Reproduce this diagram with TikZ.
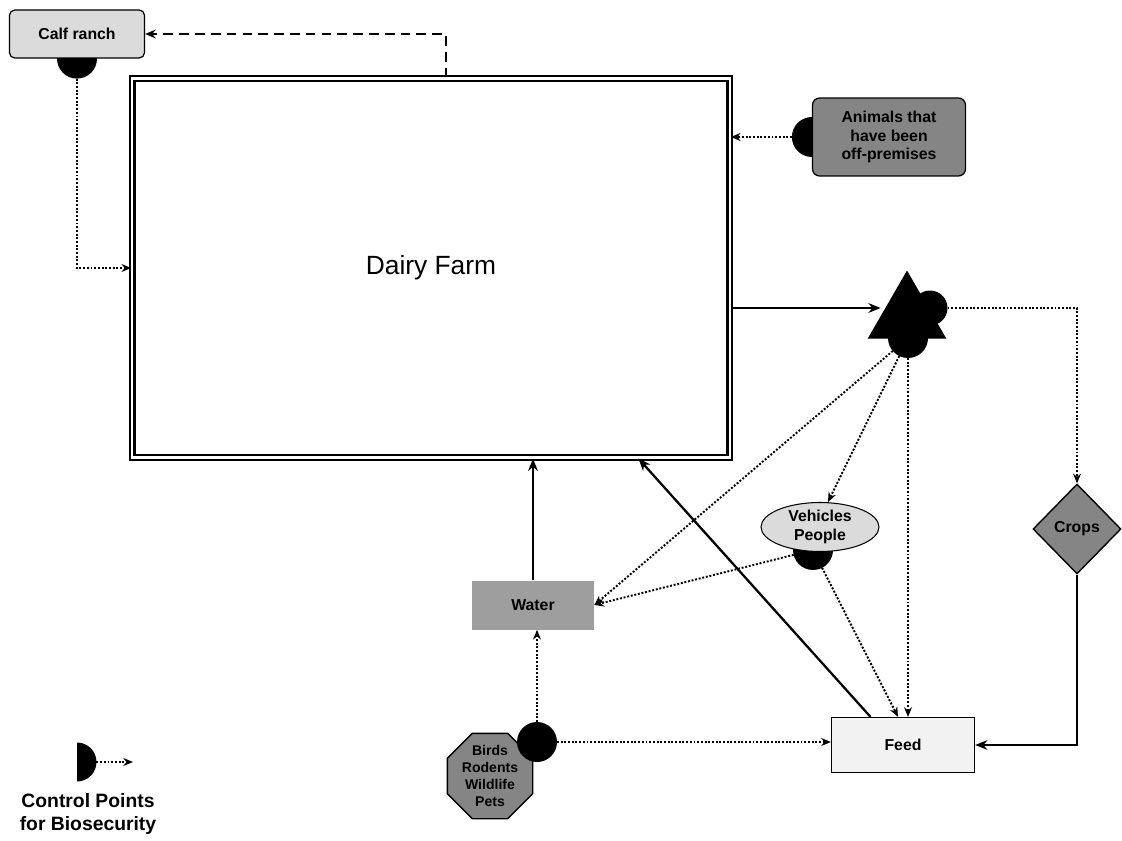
\documentclass[tikz,border=0pt]{standalone}
\usepackage{fontspec}
\setmainfont{Liberation Sans}
\usepackage{tikz}
\usetikzlibrary{positioning,shapes.geometric,arrows.meta,backgrounds,calc}
\definecolor{pale}{gray}{0.86}
\definecolor{light}{gray}{0.95}
\definecolor{mid}{gray}{0.62}
\definecolor{dark}{gray}{0.52}

\begin{document}
\begin{tikzpicture}[x=0.02cm,y=-0.02cm,
    lbl/.style={font=\fontsize{9}{10.5}\selectfont\bfseries,align=center},
    box/.style={lbl,draw,line width=0.7pt,inner sep=2pt},
    cp/.style={circle,fill=black,minimum size=0.8cm,inner sep=0pt,outer sep=0pt},
    flow/.style={line width=1.3pt,-{Stealth[length=7pt,width=5.5pt]}},
    dots/.style={line width=1.1pt,densely dotted,-{Stealth[length=5.5pt,width=4.5pt]}},
    dashline/.style={line width=1.2pt,dash pattern=on 5.5pt off 3.5pt,-{Stealth[length=6pt,width=5pt]}}
  ]
    \useasboundingbox (0,0) rectangle (1122,841);

    \node[draw,double,double distance=1.3pt,line width=1.3pt,minimum width=11.95cm,minimum height=7.58cm,
      font=\fontsize{15}{17}\selectfont] (farm) at (431,268) {Dairy Farm};

    \node[box,rounded corners=3pt,fill=pale,minimum width=2.7cm,minimum height=0.96cm] (calf) at (77,34) {Calf ranch};
    \node[box,rounded corners=4pt,fill=dark,minimum width=3.06cm,minimum height=1.56cm] (animals) at (889,137) {Animals that\\have been\\off-premises};

    % manure pile with its control points
    \node[regular polygon,regular polygon sides=3,fill=black,minimum size=1.82cm,inner sep=0pt,outer sep=0pt] (manure) at (907,316) {};
    \node[cp,minimum size=0.7cm] (rcp) at (930,308) {};
    \node[cp] (bcp) at (908,338) {};

    \node[diamond,draw,line width=0.8pt,fill=dark,lbl,minimum width=1.76cm,minimum height=1.8cm,inner sep=0pt] (crops) at (1077,529) {Crops};
    \node[lbl,fill=mid,minimum width=2.44cm,minimum height=0.98cm] (water) at (533,605) {Water};
    \node[box,fill=light,minimum width=2.86cm,minimum height=1.1cm] (feed) at (903,745) {Feed};
    \node[ellipse,draw,line width=0.6pt,fill=pale,lbl,minimum width=2.36cm,minimum height=0.98cm,inner sep=0pt] (veh) at (820,527) {Vehicles\\People};
    \node[regular polygon,regular polygon sides=8,draw,line width=0.8pt,fill=dark,lbl,
      font=\fontsize{8}{9.5}\selectfont\bfseries,minimum size=1.78cm,inner sep=0pt] (birds) at (490,776) {Birds\\Rodents\\Wildlife\\Pets};
    \node[cp] (bircp) at (537,742) {};

    \begin{scope}[on background layer]
      \node[cp] (ccp) at (calf.south) {};
      \node[cp] (acp) at (animals.west) {};
      \node[cp] (vcp) at (813,550) {};
    \end{scope}

    % legend
    \coordinate (leg) at (77,762);
    \coordinate (legend end) at (133,762);
    \fill ([yshift=0.39cm]leg) arc[start angle=90,end angle=-90,radius=0.39cm] -- cycle;
    \draw[dots] ([xshift=0.39cm]leg) -- (legend end);
    \node[font=\fontsize{11}{13}\selectfont\bfseries,align=center] (legtxt) at (88,814) {Control Points\\for Biosecurity};

    % connectors
    \draw[dots] (ccp) |- (farm.west);
    \draw[dashline] ([xshift=0.3cm]farm.north) |- (calf.east);
    \draw[dots] (acp) -- (farm.east |- acp);
    \draw[flow] (farm.east |- rcp) -- (manure.west |- rcp);
    \draw[dots] (rcp) -| (crops.north);
    \draw[flow] (crops.south) |- (feed.east);
    \draw[dots] (bcp) -- (water.east);
    \draw[dots] (bcp) -- ([xshift=0.16cm]veh.north);
    \draw[dots] (bcp) -- (bcp |- feed.north);
    \draw[dots] (vcp) -- (water.east);
    \draw[dots] (vcp) -- ([xshift=-0.1cm]feed.north);
    \draw[flow] (water.north) -- (water.north |- farm.south);
    \draw[flow] ([xshift=-0.65cm]feed.north) -- ([xshift=4.15cm]farm.south);
    \draw[dots] (bircp) -- (bircp |- water.south);
    \draw[dots] (bircp) -- (feed.west |- bircp);
\end{tikzpicture}
\end{document}
